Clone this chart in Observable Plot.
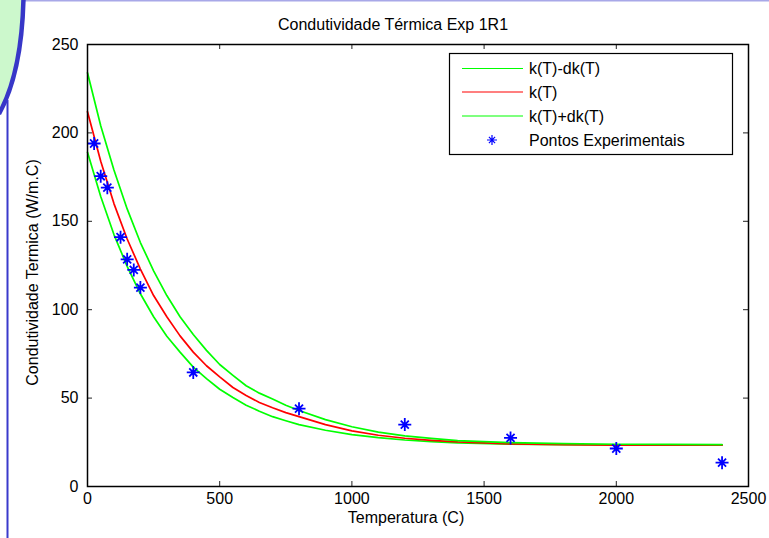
<!DOCTYPE html>
<html>
<head>
<meta charset="utf-8">
<script src="https://cdn.jsdelivr.net/npm/d3@7"></script>
<script src="https://cdn.jsdelivr.net/npm/@observablehq/plot@0.6"></script>
<style>
  html, body { margin: 0; padding: 0; background: #fff; }
  #wrap { position: relative; width: 769px; height: 538px; overflow: hidden; font-family: "Liberation Sans", Arial, sans-serif; }
  #wrap svg.overlay { position: absolute; left: 0; top: 0; pointer-events: none; }
</style>
</head>
<body>
<div id="wrap"></div>
<script>
// Experimental points: temperature (C) and thermal conductivity (W/m.C)
const expT = [25, 50, 75, 125, 150, 175, 200, 400, 800, 1200, 1600, 2000, 2400];
const expK = [194, 175.5, 169, 141, 128.5, 122.5, 112.5, 64.5, 44, 35, 27.5, 21.5, 13.5];

// Fitted curve k(T) and its band k(T) ± dk(T), sampled along T
const curveT = [0, 50, 100, 150, 200, 250, 300, 350, 400, 450, 500, 550, 600, 650, 700, 750, 800, 900, 1000, 1100, 1200, 1300, 1400, 1600, 1800, 2000, 2200, 2400];
const kMinus = [189, 164, 142.5, 124.5, 109, 96, 85, 76, 67.5, 61, 55, 50.3, 46, 42.6, 39.5, 37.2, 35, 31.8, 29.3, 27.6, 26.3, 25.4, 24.7, 24, 23.7, 23.6, 23.6, 23.6];
const kFit   = [212, 184, 160, 140, 123, 108, 96, 85.2, 76, 68.3, 62, 56, 51.5, 47.5, 44.5, 41.8, 39.5, 35, 31.5, 29, 27.3, 26.1, 25.2, 24.1, 23.6, 23.4, 23.4, 23.4];
const kPlus  = [234, 204, 179, 157, 138, 122, 108, 96, 86, 77, 69, 62.9, 57, 52.8, 49.5, 46, 43, 37.8, 33.8, 30.8, 28.6, 27.2, 26, 24.8, 24.2, 23.9, 23.8, 23.7];

// Axis ticks
const xTicks = [0, 500, 1000, 1500, 2000, 2500];
const yTicks = [0, 50, 100, 150, 200, 250];

// Text
const titleText = "Condutividade Térmica Exp 1R1";
const xLabel = "Temperatura (C)";
const yLabel = "Condutividade Termica (W/m.C)";
const legendNames = ["k(T)-dk(T)", "k(T)", "k(T)+dk(T)", "Pontos Experimentais"];

const FONT = "Liberation Sans, Arial, Helvetica, sans-serif";
const FS = 16;
const GREEN = "#00ff00", RED = "#ff0000", BLUE = "#0000ff";

// MATLAB-style '*' marker: plus with shorter diagonals
const asterisk = {
  draw(ctx, size) {
    const r = Math.sqrt(size / Math.PI);
    const d = r * 0.62;
    ctx.moveTo(0, -r); ctx.lineTo(0, r);
    ctx.moveTo(-r, 0); ctx.lineTo(r, 0);
    ctx.moveTo(-d, -d); ctx.lineTo(d, d);
    ctx.moveTo(-d, d); ctx.lineTo(d, -d);
  }
};

const curves = curveT.map((t, i) => ({T: t, lo: kMinus[i], fit: kFit[i], hi: kPlus[i]}));
const points = expT.map((t, i) => ({T: t, k: expK[i]}));

const W = 769, H = 538;
const mL = 87, mR = 21, mT = 44, mB = 52;
const pw = W - mL - mR, ph = H - mT - mB;

const chart = Plot.plot({
  width: W, height: H,
  marginLeft: mL, marginRight: mR, marginTop: mT, marginBottom: mB,
  style: {fontFamily: FONT, fontSize: FS + "px", color: "#000", background: "transparent"},
  x: {domain: [0, 2500]},
  y: {domain: [0, 250]},
  marks: [
    // curves
    Plot.line(curves, {x: "T", y: "lo", stroke: GREEN, strokeWidth: 1.7}),
    Plot.line(curves, {x: "T", y: "fit", stroke: RED, strokeWidth: 1.7}),
    Plot.line(curves, {x: "T", y: "hi", stroke: GREEN, strokeWidth: 1.7}),
    // experimental points
    Plot.dot(points, {x: "T", y: "k", symbol: asterisk, r: 6.5, stroke: BLUE, strokeWidth: 1.8, fill: "none"}),
    // inside ticks on all four sides
    Plot.tickX(xTicks, {x: d => d, insetTop: ph - 5, stroke: "#222", strokeWidth: 1}),
    Plot.tickX(xTicks, {x: d => d, insetBottom: ph - 5, stroke: "#222", strokeWidth: 1}),
    Plot.tickY(yTicks, {y: d => d, insetRight: pw - 5, stroke: "#222", strokeWidth: 1}),
    Plot.tickY(yTicks, {y: d => d, insetLeft: pw - 5, stroke: "#222", strokeWidth: 1}),
    // tick labels
    Plot.axisX({ticks: xTicks, tickSize: 0, tickPadding: 6, tickFormat: d => String(d), label: null, fontSize: FS}),
    Plot.axisY({ticks: yTicks, tickSize: 0, tickPadding: 9, tickFormat: d => String(d), label: null, fontSize: FS}),
    // box
    Plot.frame({stroke: "#000", strokeWidth: 1.5}),
    // title and axis labels
    Plot.text([titleText], {text: d => d, frameAnchor: "top", dy: -26, dx: -25, fontSize: FS, fill: "#000"}),
    Plot.text([xLabel], {text: d => d, frameAnchor: "bottom", dy: 36, dx: -12, fontSize: FS, fill: "#000"}),
    Plot.text([yLabel], {text: d => d, frameAnchor: "left", textAnchor: "middle", dx: -55, dy: 7, rotate: -90, fontSize: FS, fill: "#000"})
  ]
});

const wrap = document.getElementById("wrap");
wrap.appendChild(chart);

// Legend box and window-edge decoration, drawn on an overlay
const ov = d3.select(wrap).append("svg")
  .attr("class", "overlay").attr("width", W).attr("height", H);

// window edge: lavender top rule, green corner tab with blue border, blue left rule
ov.append("line").attr("x1", 20).attr("x2", W).attr("y1", 0.5).attr("y2", 0.5)
  .attr("stroke", "#a8a8e8").attr("stroke-width", 2);
ov.append("path").attr("d", "M0,0 L23,0 C22,42 15,85 0,113 Z").attr("fill", "#ccf8cc");
ov.append("path").attr("d", "M23.5,-2 C22.5,42 15,85 -1,114").attr("fill", "none")
  .attr("stroke", "#3737c8").attr("stroke-width", 4.5);
ov.append("line").attr("x1", 7.5).attr("x2", 7.5).attr("y1", 100).attr("y2", H)
  .attr("stroke", "#3a3acc").attr("stroke-width", 2);

// legend
const lg = ov.append("g").style("font-family", FONT).style("font-size", FS + "px");
lg.append("rect").attr("x", 449.5).attr("y", 53.5).attr("width", 283).attr("height", 101)
  .attr("fill", "#fff").attr("stroke", "#000").attr("stroke-width", 1.2);
const rowsY = [68.5, 92, 116, 140];
const rowColors = [GREEN, RED, GREEN, null];
legendNames.forEach((name, i) => {
  const y = rowsY[i];
  if (rowColors[i]) {
    lg.append("line").attr("x1", 462).attr("x2", 523).attr("y1", y).attr("y2", y)
      .attr("stroke", rowColors[i]).attr("stroke-width", 1.2);
  } else {
    const sym = d3.symbol(asterisk, Math.PI * 5 * 5)();
    lg.append("path").attr("d", sym).attr("transform", `translate(492,${y})`)
      .attr("fill", "none").attr("stroke", BLUE).attr("stroke-width", 1.2);
  }
  lg.append("text").attr("x", 529).attr("y", y).attr("dy", "0.36em").attr("fill", "#000").text(name);
});
</script>
</body>
</html>
